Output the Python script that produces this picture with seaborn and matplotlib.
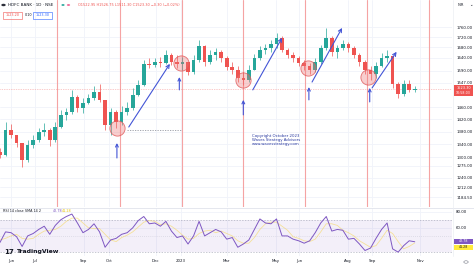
import matplotlib
matplotlib.use("Agg")
import matplotlib.pyplot as plt
import matplotlib.dates as mdates
from matplotlib.ticker import FixedLocator, NullLocator
from matplotlib.patches import Rectangle, Circle
from matplotlib.lines import Line2D
import numpy as np
import pandas as pd
import seaborn as sns

W, H, DPI = 474, 266, 100
PANE_R = 452          # right edge of chart panes (px)
MAIN_B = 207          # bottom of price pane (px)
RSI_T, RSI_B = 208, 256
PX_PER_DAY = 0.79

sns.set_theme(style="white")
plt.rcParams["font.family"] = ["DejaVu Sans"]

# ---------------- data (weekly candles) ----------------
first_week = "2022-05-18"
opens = [1316, 1307, 1386, 1369, 1344, 1292, 1338, 1354, 1379, 1386,
         1354, 1395, 1435, 1445, 1496, 1458, 1475, 1493, 1514, 1486,
         1402, 1445, 1412, 1445, 1458, 1503, 1539, 1616, 1612, 1623,
         1620, 1650, 1623, 1616, 1623, 1586, 1631, 1685, 1623, 1650,
         1662, 1638, 1604, 1593, 1564, 1557, 1593, 1638, 1669, 1677,
         1693, 1717, 1669, 1650, 1638, 1620, 1608, 1593, 1623, 1677,
         1717, 1662, 1677, 1693, 1677, 1650, 1623, 1593, 1579, 1608,
         1638, 1646, 1542, 1507, 1542, 1521]
highs = [1329, 1412, 1405, 1369, 1344, 1354, 1369, 1392, 1408, 1392,
         1412, 1452, 1458, 1521, 1503, 1493, 1507, 1535, 1542, 1486,
         1458, 1452, 1465, 1479, 1528, 1557, 1631, 1638, 1638, 1642,
         1669, 1658, 1650, 1642, 1623, 1650, 1709, 1689, 1669, 1677,
         1669, 1646, 1623, 1608, 1586, 1612, 1654, 1685, 1693, 1709,
         1737, 1725, 1677, 1662, 1646, 1631, 1620, 1638, 1689, 1757,
         1725, 1689, 1709, 1701, 1685, 1658, 1631, 1608, 1623, 1658,
         1669, 1646, 1549, 1557, 1557, 1535]
lows = [1298, 1304, 1360, 1332, 1271, 1286, 1329, 1347, 1366, 1335,
        1347, 1392, 1418, 1438, 1445, 1441, 1472, 1486, 1479, 1386,
        1369, 1392, 1402, 1435, 1452, 1500, 1535, 1601, 1604, 1604,
        1616, 1612, 1601, 1593, 1575, 1579, 1623, 1608, 1616, 1631,
        1623, 1593, 1579, 1549, 1539, 1549, 1593, 1631, 1654, 1662,
        1677, 1662, 1638, 1623, 1608, 1593, 1579, 1586, 1616, 1669,
        1646, 1638, 1669, 1662, 1638, 1608, 1579, 1557, 1564, 1604,
        1623, 1528, 1493, 1500, 1514, 1514]
closes = [1307, 1386, 1369, 1344, 1292, 1338, 1354, 1379, 1386, 1354,
          1395, 1435, 1445, 1496, 1458, 1475, 1493, 1514, 1486, 1402,
          1445, 1412, 1445, 1458, 1503, 1539, 1616, 1612, 1623, 1620,
          1650, 1623, 1616, 1623, 1586, 1631, 1685, 1623, 1650, 1662,
          1638, 1604, 1593, 1564, 1557, 1593, 1638, 1669, 1677, 1693,
          1717, 1669, 1650, 1638, 1620, 1608, 1593, 1623, 1677, 1717,
          1662, 1677, 1693, 1677, 1650, 1623, 1593, 1579, 1608, 1638,
          1646, 1542, 1507, 1542, 1521, 1523.3]
rsi = [42, 55, 54, 49, 37, 50, 53, 58, 62, 52, 63, 70, 74, 77, 66, 54, 58, 65, 55, 36,
       45, 47, 52, 54, 60, 69, 74, 65, 66, 62, 68, 56, 48, 50, 40, 50, 68, 50, 54, 58,
       55, 46, 48, 36, 40, 45, 58, 71, 66, 65, 71, 50, 50, 46, 44, 41, 44, 54, 66, 74,
       56, 58, 57, 46, 47, 40, 32, 35, 47, 58, 66, 34, 30, 38, 44, 42.78]
rsi_ma = [45, 47, 50, 52, 47, 46, 47, 52, 56, 57, 58, 62, 68, 72, 72, 66, 60, 59, 59, 52,
          45, 43, 48, 51, 55, 61, 67, 69, 68, 64, 65, 62, 57, 51, 46, 47, 53, 56, 57, 54,
          56, 53, 50, 44, 41, 41, 48, 58, 65, 67, 67, 62, 57, 49, 47, 44, 43, 46, 55, 65,
          65, 63, 57, 54, 50, 44, 40, 36, 38, 47, 57, 53, 43, 34, 37, 41.28]

price_ticks = [1760, 1720, 1680, 1640, 1590, 1547, 1460, 1420, 1380, 1340,
               1300, 1275, 1240, 1212, 1184.5]
rsi_ticks = [80, 60]
month_dates = ["2022-06-01", "2022-07-01", "2022-09-01", "2022-10-03", "2022-12-01",
               "2023-01-02", "2023-03-01", "2023-05-02", "2023-06-01", "2023-08-01",
               "2023-09-01", "2023-11-01"]
month_labels = ["Jun", "Jul", "Sep", "Oct", "Dec", "2023", "Mar", "May", "Jun",
                "Aug", "Sep", "Nov"]
cycle_dates = ["2022-07-29", "2022-10-17", "2023-01-03", "2023-03-22", "2023-06-08",
               "2023-08-26", "2023-11-12"]
circle_dates = ["2022-10-13", "2023-01-02", "2023-03-22", "2023-06-12", "2023-08-27"]
circle_prices = [1392, 1619, 1557, 1601, 1567]
up_arrow_dates = ["2022-10-13", "2022-12-31", "2023-03-22", "2023-06-13", "2023-08-29"]
up_arrow_tail = [1298, 1521, 1435, 1486, 1479]
up_arrow_head = [1344, 1567, 1486, 1531, 1528]
trend_start_dates = ["2022-10-28", "2023-04-03", "2023-06-17", "2023-09-01"]
trend_start_prices = [1395, 1521, 1549, 1528]
trend_end_dates = ["2022-12-19", "2023-05-10", "2023-07-25", "2023-10-02"]
trend_end_prices = [1616, 1717, 1757, 1662]
support_dates = ["2022-10-26", "2023-01-03"]
support_price = 1385
last_price = 1523.30
rsi_last, rsi_ma_last = 42.78, 41.28

# ---------------- figure ----------------
UP, DN = "#26a69a", "#ef5350"
GRID = "#f0f3fa"
TXT = "#131722"
BLUE = "#4355d6"

fig = plt.figure(figsize=(W / DPI, H / DPI), dpi=DPI)
fig.patch.set_facecolor("white")

def fx(px):
    return px / W

def fy(py):
    return 1 - py / H

ax = fig.add_axes([0, fy(MAIN_B), fx(PANE_R), MAIN_B / H])
axr = fig.add_axes([0, fy(RSI_B), fx(PANE_R), (RSI_B - RSI_T) / H])

dates = pd.date_range(first_week, periods=len(closes), freq="7D")
dn = mdates.date2num(dates)
x0 = mdates.date2num(pd.Timestamp(first_week))
xlim = (x0, x0 + PANE_R / PX_PER_DAY)
mdn = mdates.date2num(pd.to_datetime(month_dates))

# ---- price pane ----
ax.set_yscale("log")
o = np.array(opens, float)
c = np.array(closes, float)
cols = [UP if cc >= oo else DN for oo, cc in zip(o, c)]
ax.vlines(dn, lows, highs, colors=cols, lw=0.5, zorder=3)
bot = np.minimum(o, c)
hgt = np.maximum(np.abs(c - o), 1.5)
ax.bar(dn, hgt, bottom=bot, width=4.6, color=cols, lw=0, zorder=4)

for d in pd.to_datetime(cycle_dates):
    ax.axvline(d, color="#f5a3a3", lw=0.8, zorder=2)

ax.axhline(last_price, color=DN, lw=0.5, ls=(0, (1, 1.5)), alpha=0.6, zorder=2)

ax.scatter(pd.to_datetime(circle_dates), circle_prices, s=120,
           facecolor=(0.93, 0.45, 0.45, 0.35), edgecolor=(0.88, 0.35, 0.35, 0.85),
           lw=0.6, zorder=6)
for d, t, h in zip(pd.to_datetime(up_arrow_dates), up_arrow_tail, up_arrow_head):
    ax.annotate("", xy=(d, h), xytext=(d, t),
                arrowprops=dict(arrowstyle="->", color=BLUE, lw=0.8,
                                mutation_scale=5, shrinkA=0, shrinkB=0), zorder=7)
for ds, ps, de, pe in zip(pd.to_datetime(trend_start_dates), trend_start_prices,
                          pd.to_datetime(trend_end_dates), trend_end_prices):
    ax.annotate("", xy=(de, pe), xytext=(ds, ps),
                arrowprops=dict(arrowstyle="->", color=BLUE, lw=0.8,
                                mutation_scale=6, shrinkA=0, shrinkB=0), zorder=7)
ax.plot(pd.to_datetime(support_dates), [support_price, support_price],
        color="#9598a1", lw=0.6, ls=(0, (1.5, 1.5)), zorder=5)

ax.text(276 / PANE_R, 1 - 140 / MAIN_B,
        "Copyright October 2023\nWaves Strategy Advisors\nwww.wavesstrategy.com",
        transform=ax.transAxes, ha="center", va="center", fontsize=2.8,
        color="#2a3aa0", linespacing=1.1, zorder=8)

ax.set_xlim(*xlim)
ax.set_ylim(1158, 1875)
ax.yaxis.tick_right()
ax.yaxis.set_major_locator(FixedLocator(price_ticks))
ax.yaxis.set_minor_locator(NullLocator())
ax.set_yticklabels([f"{v:.2f}" for v in price_ticks])
ax.xaxis.set_major_locator(FixedLocator(mdn))
ax.xaxis.set_minor_locator(NullLocator())
ax.tick_params(axis="x", labelbottom=False, length=0)
ax.tick_params(axis="y", length=0, pad=3, labelsize=2.8, labelcolor=TXT)
ax.grid(True, color=GRID, lw=0.6, zorder=0)
for s in ax.spines.values():
    s.set_visible(False)
ax.set_facecolor("white")

# ---- RSI pane ----
axr.axhspan(30, 70, color="#7e57c2", alpha=0.09, lw=0, zorder=1)
for lvl, st, al in [(70, (0, (2, 2)), 0.8), (50, (0, (1, 2)), 0.45), (30, (0, (2, 2)), 0.8)]:
    axr.axhline(lvl, color="#9c9fb0", lw=0.5, ls=st, alpha=al, zorder=2)
sns.lineplot(x=dates, y=rsi_ma, ax=axr, color="#f7d54a", lw=0.6, alpha=0.55, zorder=3)
sns.lineplot(x=dates, y=rsi, ax=axr, color="#7e57c2", lw=0.7, zorder=4)
axr.set_xlim(*xlim)
axr.set_ylim(25.2, 84.5)
axr.set_xlabel("")
axr.set_ylabel("")
axr.yaxis.tick_right()
axr.yaxis.set_major_locator(FixedLocator(rsi_ticks))
axr.set_yticklabels([f"{v:.2f}" for v in rsi_ticks])
axr.xaxis.set_major_locator(FixedLocator(mdn))
axr.xaxis.set_minor_locator(NullLocator())
axr.set_xticklabels(month_labels)
axr.tick_params(axis="x", length=0, pad=2.5, labelsize=2.8, labelcolor=TXT)
axr.tick_params(axis="y", length=0, pad=3, labelsize=2.8, labelcolor=TXT)
axr.grid(True, color=GRID, lw=0.6, zorder=0)
for s in axr.spines.values():
    s.set_visible(False)

# ---- separators ----
fig.add_artist(Line2D([0, 1], [fy(MAIN_B + 0.5)] * 2, color="#e0e3eb", lw=0.6))
fig.add_artist(Line2D([fx(PANE_R + 0.5)] * 2, [fy(RSI_B), 1], color="#eceef3", lw=0.5))

# ---- header ----
fig.add_artist(Circle((fx(3.5), fy(5)), 2.2 / W, transform=fig.transFigure,
                      color="#2d2f3a", lw=0))
fig.text(fx(8), fy(5), "HDFC BANK · 1D · NSE", fontsize=3.0, color=TXT, va="center")
fig.add_artist(Circle((fx(63), fy(5)), 1.6 / W, transform=fig.transFigure, color=UP, lw=0))
fig.add_artist(Circle((fx(68.5), fy(5)), 1.6 / W, transform=fig.transFigure,
                      color="#f06292", lw=0))
fig.text(fx(78), fy(5), "O1522.95 H1526.75 L1511.30 C1523.30 −0.30 (−0.02%)",
         fontsize=2.5, color=DN, va="center")
fig.add_artist(Rectangle((fx(3), fy(18.5)), 19 / W, 7 / H, transform=fig.transFigure,
                         fill=False, ec=DN, lw=0.4))
fig.text(fx(12.5), fy(15), "1523.20", fontsize=2.4, color=DN, ha="center", va="center")
fig.text(fx(28.5), fy(15), "0.10", fontsize=2.4, color=TXT, ha="center", va="center")
fig.add_artist(Rectangle((fx(33), fy(18.5)), 19 / W, 7 / H, transform=fig.transFigure,
                         fill=False, ec="#2962ff", lw=0.4))
fig.text(fx(42.5), fy(15), "1523.30", fontsize=2.4, color="#2962ff", ha="center", va="center")
fig.text(fx(458), fy(5), "INR", fontsize=2.6, color=TXT, va="center")
fig.text(fx(469), fy(5), "⌄", fontsize=3, color=TXT, va="center")

# ---- last price badge ----
fig.add_artist(Rectangle((fx(454), fy(95.5)), 19 / W, 10 / H, transform=fig.transFigure,
                         color=DN, lw=0))
fig.text(fx(463.5), fy(88.3), f"{last_price:.2f}", fontsize=2.5, color="white",
         ha="center", va="center")
fig.text(fx(463.5), fy(93), "10:58:03", fontsize=2.3, color="white", ha="center", va="center")

# ---- RSI legend / badges ----
fig.text(fx(3), fy(211.5), "RSI 14 close SMA 14 2", fontsize=2.4, color=TXT, va="center")
fig.text(fx(53), fy(211.5), f"{rsi_last:.2f}", fontsize=2.4, color="#7e57c2", va="center")
fig.text(fx(61.5), fy(211.5), f"{rsi_ma_last:.2f}", fontsize=2.4, color="#e6c200", va="center")
fig.add_artist(Rectangle((fx(454), fy(244)), 19 / W, 5 / H, transform=fig.transFigure,
                         color="#7e57c2", lw=0))
fig.text(fx(463.5), fy(241.5), f"{rsi_last:.2f}", fontsize=2.3, color="white",
         ha="center", va="center")
fig.add_artist(Rectangle((fx(454), fy(249.5)), 19 / W, 5 / H, transform=fig.transFigure,
                         color="#ffeb3b", lw=0))
fig.text(fx(463.5), fy(247), f"{rsi_ma_last:.2f}", fontsize=2.3, color=TXT,
         ha="center", va="center")

# ---- TradingView logo ----
fig.text(fx(4), fy(252), "17", fontsize=5.0, fontweight="heavy", color=TXT, va="center")
fig.text(fx(17), fy(252), "TradingView", fontsize=4.4, fontweight="semibold",
         color=TXT, va="center")
fig.add_artist(Circle((fx(466), fy(262)), 2.2 / W, transform=fig.transFigure,
                      fill=False, ec="#787b86", lw=0.4))

fig.savefig("out.png", dpi=DPI, facecolor="white")
